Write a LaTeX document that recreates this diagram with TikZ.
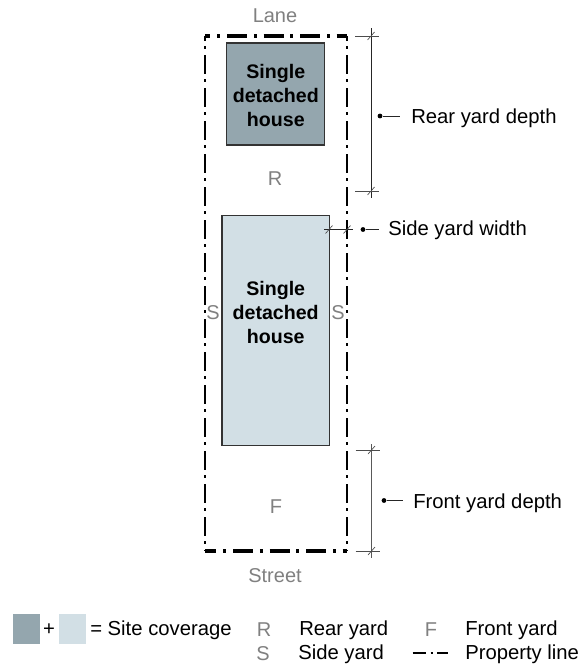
\documentclass[tikz,border=0pt]{standalone}
\usepackage{fontspec}
\setmainfont{Liberation Sans}
\usetikzlibrary{positioning}
\definecolor{housedark}{HTML}{94A6AE}
\definecolor{houselight}{HTML}{D2DFE5}
\definecolor{yardgrey}{HTML}{808080}
\tikzset{
    yard/.style={text=yardgrey, font=\fontsize{15}{18}\selectfont, inner sep=0pt},
    lbl/.style={anchor=west, font=\fontsize{15.2}{18}\selectfont, inner sep=0pt},
    house/.style={draw=black!80, line width=0.9pt, inner sep=0pt},
    housetext/.style={align=center, font=\fontsize{14.7}{18}\selectfont\bfseries, inner sep=0pt},
    propv/.style={line width=2pt, dash pattern=on 14pt off 4pt on 2pt off 4.75pt, dash phase=10.5pt},
    proptop/.style={line width=2.3pt, dash pattern=on 15pt off 5.2pt on 2pt off 5.2pt, dash phase=10.9pt},
    propbot/.style={line width=2.3pt, dash pattern=on 15pt off 5.2pt on 2pt off 5.2pt, dash phase=6.4pt},
    dim/.style={line width=0.7pt, black!85},
    tick/.style={line width=0.5pt, black!70},
    lead/.style={line width=0.7pt, black!85},
    dot/.style={circle, fill=black, inner sep=0pt, minimum size=3.6pt}
}
\begin{document}
\begin{tikzpicture}[x=0.75pt, y=-0.75pt]
    \useasboundingbox (0, 0) rectangle (587, 664);
    % property line
    \coordinate (pa) at (205, 36);
    \coordinate (pb) at (347, 36);
    \coordinate (pc) at (347, 551);
    \coordinate (pd) at (205, 551);
    \draw[proptop] (pa) -- (pb);
    \draw[propv] (pa) -- (pd);
    \draw[propv] (pb) -- (pc);
    \draw[propbot] (pd) -- (pc);
    % houses
    \node[house, fill=housedark, minimum width=73.5pt, minimum height=76.5pt] (rearhouse) at (275.8, 94) {};
    \node[house, fill=houselight, minimum width=80.5pt, minimum height=173pt] (fronthouse) at (275.7, 330.5) {};
    \node[housetext] (reartext) at (275.8, 95.5) {Single\\detached\\house};
    \node[housetext] (fronttext) at (275.7, 312) {Single\\detached\\house};
    % yard letters
    \node[yard] (lane) at (275, 16) {Lane};
    \node[yard] (street) at (275, 576) {Street};
    \node[yard] (rletter) at (275, 179) {R};
    \node[yard] (fletter) at (276, 507) {F};
    \node[yard] (sleft) at (213, 313) {S};
    \node[yard] (sright) at (338, 313) {S};
    % rear yard depth
    \coordinate (reartop) at (371, 36);
    \coordinate (rearbot) at (371, 191);
    \draw[dim] ([shift={(0, -8)}]reartop) -- ([shift={(0, 7)}]rearbot);
    % front yard depth
    \coordinate (fronttop) at (371.5, 450);
    \coordinate (frontbot) at (371.5, 551);
    \draw[dim, black!65] ([shift={(0, -6)}]fronttop) -- ([shift={(0, 7)}]frontbot);
    \foreach \p in {reartop, rearbot, fronttop, frontbot} {
        \draw[tick] ([shift={(-16, 0)}]\p) -- ([shift={(8, 0)}]\p);
        \draw[tick] ([shift={(-3.5, 4)}]\p) -- ([shift={(3.5, -4)}]\p);
    }
    % side yard width
    \coordinate (sideleft) at (324, 229.5);
    \coordinate (sideright) at (353, 229.5);
    \coordinate (sideinner) at (329, 229.5);
    \coordinate (sideouter) at (347, 229.5);
    \draw[dim] (sideleft) -- (sideright);
    \foreach \p in {sideinner, sideouter} {
        \draw[tick] ([shift={(-3.5, 4)}]\p) -- ([shift={(3.5, -4)}]\p);
    }
    % leaders
    \node[lbl] (reardepth) at (411, 118) {Rear yard depth};
    \node[lbl] (sidewidth) at (388, 230) {Side yard width};
    \node[lbl] (frontdepth) at (413, 503) {Front yard depth};
    \node[dot] (reardot) at (380, 116) {};
    \node[dot] (sidedot) at (363, 229.5) {};
    \node[dot] (frontdot) at (384, 500.5) {};
    \coordinate (rearend) at (400, 116);
    \coordinate (sideend) at (379, 229.5);
    \coordinate (frontend) at (403, 500.5);
    \draw[lead] (reardot) -- (rearend);
    \draw[lead] (sidedot) -- (sideend);
    \draw[lead] (frontdot) -- (frontend);
    % legend
    \node[fill=housedark, minimum width=20pt, minimum height=22.5pt, inner sep=0pt] (keydark) at (26.5, 629) {};
    \node[fill=houselight, minimum width=20pt, minimum height=22.5pt, inner sep=0pt] (keylight) at (72.5, 629) {};
    \node[lbl, anchor=center] (plus) at (49, 630) {+};
    \node[lbl] (coverage) at (90, 630) {= Site coverage};
    \node[yard] (keyr) at (264, 630) {R};
    \node[lbl] (rearyard) at (299, 630) {Rear yard};
    \node[yard] (keyf) at (431, 630) {F};
    \node[lbl] (frontyard) at (465, 630) {Front yard};
    \node[yard] (keys) at (263, 654) {S};
    \node[lbl] (sideyard) at (298, 654) {Side yard};
    \coordinate (keyline) at (412.5, 653);
    \coordinate (keylineend) at (448, 653);
    \draw[line width=1.8pt, dash pattern=on 10pt off 3.5pt on 1.5pt off 3.5pt] (keyline) -- (keylineend);
    \node[lbl] (propline) at (465, 654) {Property line};
\end{tikzpicture}
\end{document}
